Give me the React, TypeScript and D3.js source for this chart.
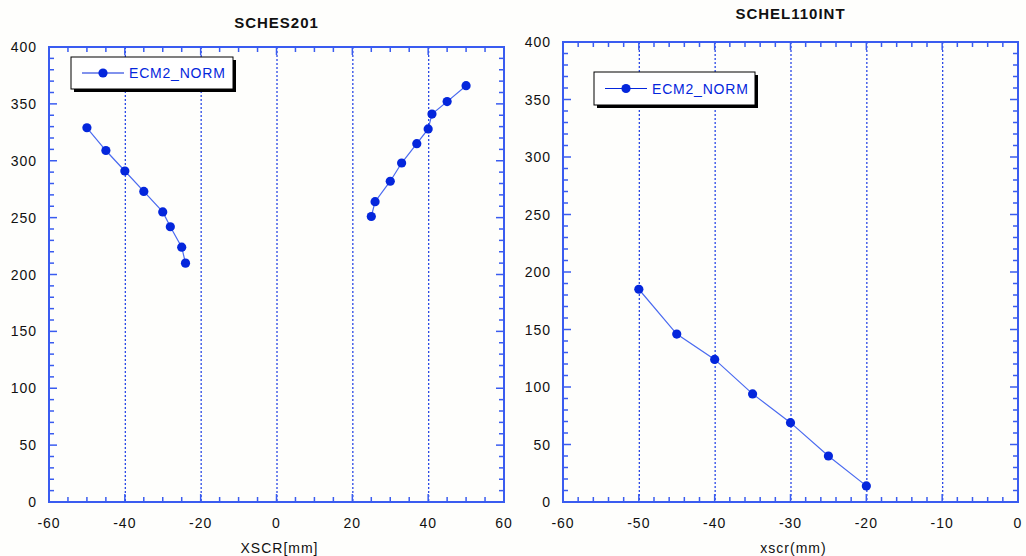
import { useRef, useEffect } from 'react';
import * as d3 from 'd3';

// SCHES201 – two branches, no line between them
const schesNegX = [-50, -45, -40, -35, -30, -28, -25, -24];
const schesNegY = [329, 309, 291, 273, 255, 242, 224, 210];
const schesPosX = [25, 26, 30, 33, 37, 40, 41, 45, 50];
const schesPosY = [251, 264, 282, 298, 315, 328, 341, 352, 366];

// SCHEL110INT
const schelX = [-50, -45, -40, -35, -30, -25, -20];
const schelY = [185, 146, 124, 94, 69, 40, 14];

const leftXTicks = [-60, -40, -20, 0, 20, 40, 60];
const rightXTicks = [-60, -50, -40, -30, -20, -10, 0];
const yTicks = [0, 50, 100, 150, 200, 250, 300, 350, 400];

const seriesName = 'ECM2_NORM';

const AXIS = '#3a5cf0';
const GRID = '#2a48e6';
const LINE = '#4a6af0';
const MARK = '#0426dc';
const FONT = '"Liberation Sans", Arial, sans-serif';

type Panel = {
  title: string;
  titleY: number;
  xLabel: string;
  x0: number;
  x1: number;
  y0: number;
  y1: number;
  xDomain: [number, number];
  xTicks: number[];
  xMinorStep: number;
  segments: { x: number[]; y: number[] }[];
  legend: { x: number; y: number; w: number; h: number };
};

const panels: Panel[] = [
  {
    title: 'SCHES201',
    titleY: 28,
    xLabel: 'XSCR[mm]',
    x0: 49,
    x1: 504,
    y0: 47,
    y1: 502,
    xDomain: [-60, 60],
    xTicks: leftXTicks,
    xMinorStep: 5,
    segments: [
      { x: schesNegX, y: schesNegY },
      { x: schesPosX, y: schesPosY },
    ],
    legend: { x: 71, y: 57, w: 162, h: 32 },
  },
  {
    title: 'SCHEL110INT',
    titleY: 19,
    xLabel: 'xscr(mm)',
    x0: 563,
    x1: 1018,
    y0: 42,
    y1: 502,
    xDomain: [-60, 0],
    xTicks: rightXTicks,
    xMinorStep: 2,
    segments: [{ x: schelX, y: schelY }],
    legend: { x: 594, y: 72, w: 161, h: 33 },
  },
];

function drawPanel(svg: d3.Selection<SVGSVGElement, unknown, null, undefined>, p: Panel) {
  const x = d3.scaleLinear().domain(p.xDomain).range([p.x0, p.x1]);
  const y = d3.scaleLinear().domain([0, 400]).range([p.y1, p.y0]);
  const g = svg.append('g');

  // vertical dotted grid at inner major ticks
  g.selectAll('line.grid')
    .data(p.xTicks.slice(1, -1))
    .join('line')
    .attr('x1', (d) => x(d) + 0.5)
    .attr('x2', (d) => x(d) + 0.5)
    .attr('y1', p.y0)
    .attr('y2', p.y1)
    .attr('stroke', GRID)
    .attr('stroke-width', 1.3)
    .attr('stroke-dasharray', '2,2');

  // frame
  g.append('rect')
    .attr('x', p.x0)
    .attr('y', p.y0)
    .attr('width', p.x1 - p.x0)
    .attr('height', p.y1 - p.y0)
    .attr('fill', 'none')
    .attr('stroke', AXIS)
    .attr('stroke-width', 2);

  // minor / major ticks on all four sides, pointing inward
  const xMinor = d3.range(p.xDomain[0], p.xDomain[1] + 0.001, p.xMinorStep);
  const yMinor = d3.range(0, 401, 10);
  const ticks = g.append('g').attr('stroke', AXIS).attr('stroke-width', 1.5);
  xMinor.forEach((v) => {
    const len = p.xTicks.includes(v) ? 8 : 5;
    ticks.append('line').attr('x1', x(v)).attr('x2', x(v)).attr('y1', p.y1).attr('y2', p.y1 - len);
    ticks.append('line').attr('x1', x(v)).attr('x2', x(v)).attr('y1', p.y0).attr('y2', p.y0 + len);
  });
  yMinor.forEach((v) => {
    const len = v % 50 === 0 ? 8 : 5;
    ticks.append('line').attr('x1', p.x0).attr('x2', p.x0 + len).attr('y1', y(v)).attr('y2', y(v));
    ticks.append('line').attr('x1', p.x1).attr('x2', p.x1 - len).attr('y1', y(v)).attr('y2', y(v));
  });

  // tick labels
  g.selectAll('text.xt')
    .data(p.xTicks)
    .join('text')
    .attr('x', (d) => x(d))
    .attr('y', p.y1 + 26)
    .attr('text-anchor', 'middle')
    .attr('font-family', FONT)
    .attr('font-size', 14)
    .attr('letter-spacing', 1)
    .attr('fill', '#111')
    .text((d) => String(d));

  g.selectAll('text.yt')
    .data(yTicks)
    .join('text')
    .attr('x', p.x0 - 12)
    .attr('y', (d) => y(d) + 5)
    .attr('text-anchor', 'end')
    .attr('font-family', FONT)
    .attr('font-size', 14)
    .attr('letter-spacing', 1)
    .attr('fill', '#111')
    .text((d) => String(d));

  // titles
  g.append('text')
    .attr('x', (p.x0 + p.x1) / 2)
    .attr('y', p.titleY)
    .attr('text-anchor', 'middle')
    .attr('font-family', FONT)
    .attr('font-weight', 'bold')
    .attr('font-size', 15)
    .attr('letter-spacing', 1)
    .attr('fill', '#111')
    .text(p.title);

  g.append('text')
    .attr('x', (p.x0 + p.x1) / 2 + 3)
    .attr('y', p.y1 + 51)
    .attr('text-anchor', 'middle')
    .attr('font-family', FONT)
    .attr('font-size', 14)
    .attr('letter-spacing', 1)
    .attr('fill', '#111')
    .text(p.xLabel);

  // series
  const line = d3
    .line<[number, number]>()
    .x((d) => x(d[0]))
    .y((d) => y(d[1]));

  p.segments.forEach((s) => {
    const pts = s.x.map((v, i) => [v, s.y[i]] as [number, number]);
    g.append('path')
      .attr('d', line(pts))
      .attr('fill', 'none')
      .attr('stroke', LINE)
      .attr('stroke-width', 1.2);
    g.selectAll(null)
      .data(pts)
      .join('circle')
      .attr('cx', (d) => x(d[0]))
      .attr('cy', (d) => y(d[1]))
      .attr('r', 4.6)
      .attr('fill', MARK);
  });

  // legend
  const L = p.legend;
  const lg = g.append('g');
  lg.append('rect')
    .attr('x', L.x + 3)
    .attr('y', L.y + 3)
    .attr('width', L.w)
    .attr('height', L.h)
    .attr('fill', '#000');
  lg.append('rect')
    .attr('x', L.x)
    .attr('y', L.y)
    .attr('width', L.w)
    .attr('height', L.h)
    .attr('fill', '#fff')
    .attr('stroke', '#000')
    .attr('stroke-width', 1);
  const ly = L.y + L.h / 2;
  lg.append('line')
    .attr('x1', L.x + 11)
    .attr('x2', L.x + 53)
    .attr('y1', ly)
    .attr('y2', ly)
    .attr('stroke', MARK)
    .attr('stroke-width', 1.2);
  lg.append('circle').attr('cx', L.x + 32).attr('cy', ly).attr('r', 4.6).attr('fill', MARK);
  lg.append('text')
    .attr('x', L.x + 58)
    .attr('y', ly + 5)
    .attr('font-family', FONT)
    .attr('font-size', 14)
    .attr('letter-spacing', 0.8)
    .attr('fill', MARK)
    .text(seriesName);
}

export default function App() {
  const ref = useRef<SVGSVGElement>(null);

  useEffect(() => {
    document.body.style.margin = '0';
    const svg = d3.select(ref.current!);
    svg.selectAll('*').remove();
    svg.append('rect').attr('width', 1026).attr('height', 556).attr('fill', '#fefefc');
    panels.forEach((p) => drawPanel(svg, p));
  }, []);

  return <svg ref={ref} width={1026} height={556} style={{ display: 'block' }} />;
}
